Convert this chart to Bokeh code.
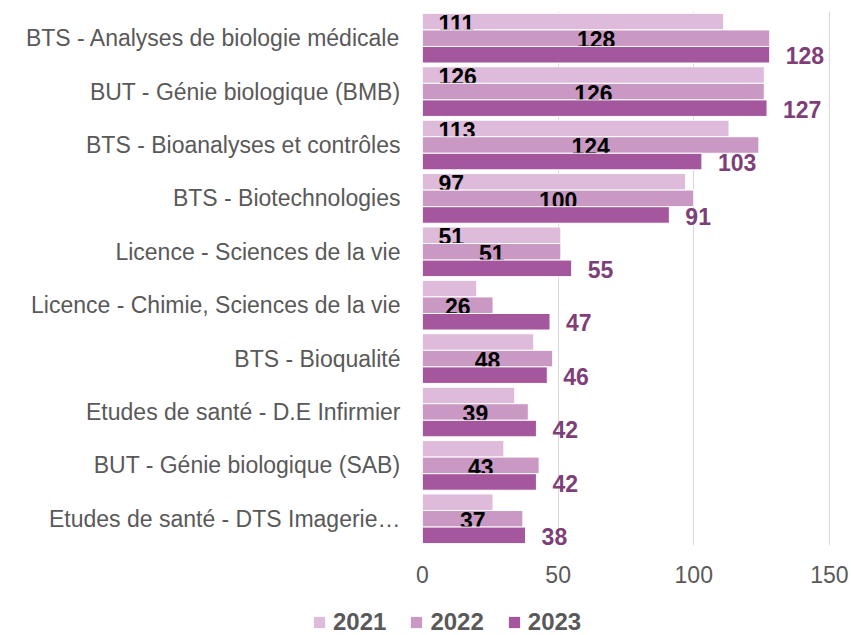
from bokeh.plotting import figure
from bokeh.layouts import column
from bokeh.models import (ColumnDataSource, FactorRange, Range1d, FixedTicker,
                          Legend, LegendItem)
from bokeh.core.properties import value
from bokeh.transform import dodge
from bokeh.embed import file_html
from bokeh.resources import INLINE

categories = [
    "BTS - Analyses de biologie médicale",
    "BUT - Génie biologique (BMB)",
    "BTS - Bioanalyses et contrôles",
    "BTS - Biotechnologies",
    "Licence - Sciences de la vie",
    "Licence - Chimie, Sciences de la vie",
    "BTS - Bioqualité",
    "Etudes de santé - D.E Infirmier",
    "BUT - Génie biologique (SAB)",
    "Etudes de santé - DTS Imagerie…",
]
v2021 = [111, 126, 113, 97, 51, 20, 41, 34, 30, 26]
v2022 = [128, 126, 124, 100, 51, 26, 48, 39, 43, 37]
v2023 = [128, 127, 103, 91, 55, 47, 46, 42, 42, 38]
years = ["2021", "2022", "2023"]
shown2021 = [True, True, True, True, True, False, False, False, False, False]
x_ticks = [0, 50, 100, 150]

colors = {"2021": "#DEBBDA", "2022": "#C999C4", "2023": "#A5579E"}
label23_color = "#7E3F78"
txt_grey = "#595959"
FONT = "Liberation Sans"
FS = "23px"

src = ColumnDataSource(dict(
    cat=categories,
    v2021=v2021, v2022=v2022, v2023=v2023,
    m2022=[v / 2 for v in v2022],
    l2021=[str(v) if s else "" for v, s in zip(v2021, shown2021)],
    l2022=[str(v) for v in v2022],
    l2023=[str(v) for v in v2023],
    zero=[0] * len(categories),
))

p = figure(
    width=851, height=597,
    y_range=FactorRange(factors=list(reversed(categories)), range_padding=0),
    x_range=Range1d(0, 150.4),
    output_backend="svg", toolbar_location=None,
    min_border_left=422, min_border_right=21,
    min_border_top=11, min_border_bottom=52,
)
p.outline_line_color = None
p.background_fill_color = "white"

bh = 0.31
offsets = {"2021": bh, "2022": 0.0, "2023": -bh}
for yr in years:
    p.hbar(y=dodge("cat", offsets[yr], range=p.y_range), right="v" + yr,
           left=0, height=bh, source=src, fill_color=colors[yr],
           line_color="white", line_width=1)
    if yr == "2021":
        p.text(x="zero", y=dodge("cat", offsets[yr] - 0.03, range=p.y_range),
               text="l2021", source=src, x_offset=16,
               text_align="left", text_baseline="middle",
               text_font=value(FONT), text_font_size=FS,
               text_font_style="bold", text_color="black")
    elif yr == "2022":
        p.text(x="m2022", y=dodge("cat", -0.03, range=p.y_range),
               text="l2022", source=src,
               text_align="center", text_baseline="middle",
               text_font=value(FONT), text_font_size=FS,
               text_font_style="bold", text_color="black")
    else:
        p.text(x="v2023", y=dodge("cat", offsets[yr] - 0.02, range=p.y_range),
               text="l2023", source=src, x_offset=16,
               text_align="left", text_baseline="middle",
               text_font=value(FONT), text_font_size=FS,
               text_font_style="bold", text_color=label23_color)

# axes
p.xaxis.ticker = FixedTicker(ticks=x_ticks)
p.xaxis.axis_line_color = None
p.xaxis.major_tick_line_color = None
p.xaxis.minor_tick_line_color = None
p.xaxis.major_tick_out = 0
p.xaxis.major_label_standoff = 20
p.xaxis.major_label_text_font = FONT
p.xaxis.major_label_text_font_size = FS
p.xaxis.major_label_text_color = txt_grey

p.yaxis.axis_line_color = None
p.yaxis.major_tick_line_color = None
p.yaxis.minor_tick_line_color = None
p.yaxis.major_tick_out = 0
p.yaxis.major_label_standoff = 22
p.yaxis.major_label_text_font = FONT
p.yaxis.major_label_text_font_size = FS
p.yaxis.major_label_text_color = txt_grey

p.xgrid.ticker = FixedTicker(ticks=x_ticks)
p.xgrid.grid_line_color = "#D9D9D9"
p.xgrid.grid_line_width = 1
p.ygrid.grid_line_color = None

# legend strip below the chart (zero-height proxy bars, nothing drawn)
lg = figure(width=851, height=38, x_range=Range1d(0, 150), y_range=Range1d(0, 1),
            output_backend="svg", toolbar_location=None,
            min_border_left=0, min_border_right=0, min_border_top=0,
            min_border_bottom=0, x_axis_type=None, y_axis_type=None)
lg.outline_line_color = None
lg.grid.visible = False
for fig in (p, lg):
    try:
        fig.frame_align = False
    except Exception:
        pass

items = []
for yr in years:
    proxy = lg.hbar(y=0.5, left=0, right="v" + yr, height=0, source=src,
                    fill_color=colors[yr], fill_alpha=1.0, line_color=None)
    items.append(LegendItem(label=yr, renderers=[proxy]))
legend = Legend(
    items=items, orientation="horizontal", location=(312, -1),
    glyph_width=14, glyph_height=14, label_standoff=7, spacing=23,
    padding=0, margin=0, border_line_color=None, background_fill_alpha=0,
    label_text_font=FONT, label_text_font_size="24px",
    label_text_font_style="bold", label_text_color=txt_grey,
)
lg.add_layout(legend, "center")

layout = column(p, lg, spacing=0)
open("out.html", "w").write(file_html(layout, INLINE))
